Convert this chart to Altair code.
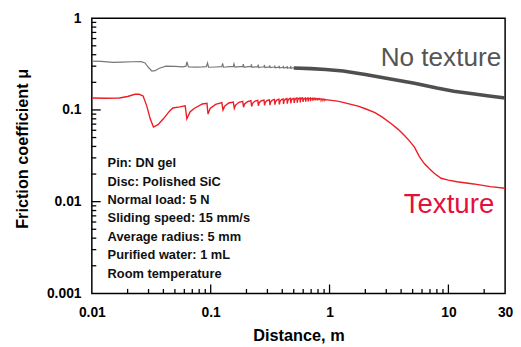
import altair as alt
import pandas as pd

# ---------------- data ----------------
red_x = [0.010, 0.013, 0.017, 0.020, 0.023, 0.025, 0.027, 0.029, 0.031, 0.033, 0.036, 0.040, 0.045, 0.048, 0.055, 0.061,
         0.063, 0.067, 0.072, 0.085, 0.093,
         0.095, 0.099, 0.110, 0.124,
         0.127, 0.131, 0.142, 0.155,
         0.158, 0.162, 0.173, 0.186,
         0.189, 0.193, 0.204, 0.218,
         0.221, 0.225, 0.236, 0.249,
         0.252, 0.256, 0.267, 0.281,
         0.284, 0.288, 0.299, 0.312,
         0.315, 0.319, 0.330, 0.344,
         0.347, 0.351, 0.362, 0.375,
         0.378, 0.383, 0.394, 0.407,
         0.410, 0.414, 0.425, 0.438,
         0.441, 0.446, 0.457, 0.470,
         0.472, 0.477, 0.490, 0.501,
         0.504, 0.509, 0.521, 0.532,
         0.535, 0.540, 0.552, 0.564,
         0.567, 0.572, 0.584, 0.595,
         0.598, 0.603, 0.627,
         0.630, 0.635, 0.658,
         0.661, 0.666, 0.690,
         0.692, 0.698, 0.721,
         0.724, 0.729, 0.752,
         0.755, 0.761, 0.784,
         0.787, 0.792, 0.815,
         0.818, 0.824, 0.846,
         0.849, 0.855, 0.877,
         0.880, 0.886, 0.909,
         0.912, 0.917, 0.940,
         1.0, 1.2, 1.4, 1.74, 2.0, 2.41, 2.8, 3.33, 3.8, 4.27, 4.7, 5.18, 5.7, 6.27, 7.0, 7.59, 8.67,
         10.0, 11.8, 16.3, 22.5, 30.0]
red_y = [0.135, 0.134, 0.135, 0.140, 0.148, 0.148, 0.142, 0.110, 0.080, 0.065, 0.069, 0.080, 0.097, 0.105, 0.108, 0.111,
         0.080, 0.095, 0.103, 0.116, 0.118,
         0.090, 0.104, 0.115, 0.120,
         0.100, 0.110, 0.119, 0.122,
         0.104, 0.113, 0.121, 0.124,
         0.107, 0.116, 0.123, 0.126,
         0.109, 0.118, 0.125, 0.127,
         0.111, 0.120, 0.126, 0.128,
         0.112, 0.121, 0.127, 0.129,
         0.113, 0.122, 0.128, 0.130,
         0.114, 0.123, 0.129, 0.131,
         0.115, 0.124, 0.130, 0.132,
         0.116, 0.125, 0.131, 0.133,
         0.117, 0.126, 0.132, 0.134,
         0.118, 0.127, 0.133, 0.134,
         0.119, 0.128, 0.134, 0.135,
         0.120, 0.129, 0.134, 0.135,
         0.121, 0.130, 0.135, 0.135,
         0.122, 0.130, 0.135,
         0.123, 0.131, 0.135,
         0.124, 0.131, 0.135,
         0.125, 0.132, 0.134,
         0.126, 0.132, 0.134,
         0.127, 0.132, 0.133,
         0.127, 0.132, 0.133,
         0.128, 0.132, 0.132,
         0.128, 0.131, 0.131,
         0.128, 0.131, 0.130,
         0.128, 0.130, 0.129,
         0.128, 0.124, 0.118, 0.110, 0.103, 0.0935, 0.083, 0.0702, 0.061, 0.0525, 0.046, 0.0393, 0.031, 0.026, 0.0225, 0.0204, 0.018,
         0.0172, 0.0165, 0.0156, 0.0146, 0.0140]

gray_thin_x = [0.010, 0.012, 0.015, 0.018, 0.022, 0.026, 0.028, 0.030, 0.032, 0.034, 0.037, 0.042, 0.050, 0.058, 0.062,
               0.063, 0.065, 0.075, 0.085, 0.092,
               0.094, 0.096, 0.110, 0.124,
               0.126, 0.128, 0.145, 0.155,
               0.157, 0.160, 0.175, 0.186,
               0.188, 0.191, 0.205, 0.218,
               0.220, 0.223, 0.237, 0.249,
               0.251, 0.254, 0.268, 0.281,
               0.283, 0.286, 0.300, 0.312,
               0.314, 0.317, 0.331, 0.344,
               0.346, 0.349, 0.364, 0.375,
               0.377, 0.380, 0.395, 0.406,
               0.408, 0.411, 0.426, 0.438,
               0.440, 0.443, 0.458, 0.469,
               0.471, 0.474, 0.490, 0.500]
gray_thin_y = [0.340, 0.338, 0.330, 0.332, 0.335, 0.336, 0.325, 0.290, 0.265, 0.268, 0.285, 0.300, 0.298, 0.295, 0.300,
               0.335, 0.295, 0.293, 0.295, 0.297,
               0.325, 0.292, 0.294, 0.296,
               0.322, 0.292, 0.296, 0.297,
               0.318, 0.293, 0.296, 0.297,
               0.316, 0.292, 0.296, 0.296,
               0.313, 0.291, 0.295, 0.295,
               0.311, 0.290, 0.294, 0.294,
               0.309, 0.289, 0.293, 0.293,
               0.307, 0.289, 0.292, 0.292,
               0.305, 0.288, 0.291, 0.291,
               0.303, 0.287, 0.290, 0.290,
               0.302, 0.286, 0.289, 0.289,
               0.301, 0.285, 0.288, 0.288,
               0.300, 0.284, 0.287, 0.287]

gray_thick_x = [0.50, 0.70, 0.93, 1.3, 2.0, 3.0, 5.18, 8.0, 11.1, 16.0, 22.0, 30.0]
gray_thick_y = [0.287, 0.282, 0.276, 0.266, 0.244, 0.222, 0.195, 0.173, 0.160, 0.150, 0.142, 0.135]

x_label_values = [0.01, 0.1, 1, 10, 30]
y_label_values = [0.001, 0.01, 0.1, 1]
x_major_ticks = [0.1, 1, 10]
x_minor_ticks = [0.02, 0.03, 0.04, 0.05, 0.06, 0.07, 0.08, 0.09,
                 0.2, 0.3, 0.4, 0.5, 0.6, 0.7, 0.8, 0.9,
                 2, 3, 4, 5, 6, 7, 8, 9, 20]
y_major_ticks = [0.01, 0.1]
y_minor_ticks = [0.002, 0.003, 0.004, 0.005, 0.006, 0.007, 0.008, 0.009,
                 0.02, 0.03, 0.04, 0.05, 0.06, 0.07, 0.08, 0.09,
                 0.2, 0.3, 0.4, 0.5, 0.6, 0.7, 0.8, 0.9]

annotation_lines = ["Pin: DN gel", "Disc: Polished SiC", "Normal load: 5 N", "Sliding speed: 15 mm/s",
                    "Average radius: 5 mm", "Purified water: 1 mL", "Room temperature"]
series_labels = ["No texture", "Texture"]

# ---------------- chart ----------------
W, H = 419, 279
FONT = "Liberation Sans"

xs = alt.Scale(type="log", domain=[0.01, 30], nice=False)
ys = alt.Scale(type="log", domain=[0.001, 1], nice=False)

x_axis = alt.Axis(values=x_label_values, labelExpr="datum.value + ''", grid=False, ticks=False, tickSize=0,
                  domain=False, labelFont=FONT, labelFontSize=14, labelFontWeight="bold", labelColor="black",
                  labelPadding=12, labelFlush=False, title="Distance, m", titleFont=FONT,
                  titleFontSize=16.5, titleFontWeight="bold", titleColor="black", titlePadding=9)
y_axis = alt.Axis(values=y_label_values, labelExpr="datum.value + ''", grid=False, ticks=False, tickSize=0,
                  domain=False, labelFont=FONT, labelFontSize=14, labelFontWeight="bold", labelColor="black",
                  labelPadding=11, labelFlush=False, title="Friction coefficient μ", titleFont=FONT,
                  titleFontSize=16.5, titleFontWeight="bold", titleColor="black", titlePadding=16,
                  titleY=132)

df_red = pd.DataFrame({"x": red_x, "y": red_y})
df_gthin = pd.DataFrame({"x": gray_thin_x, "y": gray_thin_y})
df_gthick = pd.DataFrame({"x": gray_thick_x, "y": gray_thick_y})

gray_thin = alt.Chart(df_gthin).mark_line(color="#777777", strokeWidth=1.2, clip=True).encode(
    x=alt.X("x:Q", scale=xs, axis=x_axis),
    y=alt.Y("y:Q", scale=ys, axis=y_axis),
    order="x:Q",
)
gray_thick = alt.Chart(df_gthick).mark_line(color="#4f4f4f", strokeWidth=3.6, clip=True).encode(
    x=alt.X("x:Q", scale=xs),
    y=alt.Y("y:Q", scale=ys),
    order="x:Q",
)
red = alt.Chart(df_red).mark_line(color="#ee1c25", strokeWidth=1.4, clip=True).encode(
    x=alt.X("x:Q", scale=xs),
    y=alt.Y("y:Q", scale=ys),
    order="x:Q",
)

def xticks(vals, length):
    return alt.Chart(pd.DataFrame({"x": vals})).mark_rule(color="black", strokeWidth=1.3).encode(
        x=alt.X("x:Q", scale=xs), y=alt.value(H), y2=alt.value(H - length))

def yticks(vals, length):
    return alt.Chart(pd.DataFrame({"y": vals})).mark_rule(color="black", strokeWidth=1.3).encode(
        y=alt.Y("y:Q", scale=ys), x=alt.value(0), x2=alt.value(length))

notes = alt.Chart(pd.DataFrame({"k": [0]})).mark_text(
    text=annotation_lines, align="left", baseline="middle", lineHeight=18.7,
    font=FONT, fontSize=13, fontWeight="bold", color="#111111",
).encode(x=alt.value(16), y=alt.value(147))

lbl_no = alt.Chart(pd.DataFrame({"k": [0]})).mark_text(
    text=series_labels[0], align="right", baseline="middle", font=FONT, fontSize=26.5, color="#555555",
).encode(x=alt.value(415), y=alt.value(40))

lbl_tex = alt.Chart(pd.DataFrame({"k": [0]})).mark_text(
    text=series_labels[1], align="right", baseline="middle", font=FONT, fontSize=28, color="#e3103c",
).encode(x=alt.value(408), y=alt.value(189))

chart = alt.layer(
    gray_thin, gray_thick, red,
    xticks(x_major_ticks, 9), xticks(x_minor_ticks, 4.5),
    yticks(y_major_ticks, 9), yticks(y_minor_ticks, 4.5),
    notes, lbl_no, lbl_tex,
).properties(
    width=W, height=H, autosize="none", background="white",
    padding={"left": 85, "top": 8, "right": 8, "bottom": 51},
).configure_view(stroke="black", strokeWidth=1.5)

chart.save("out.html", embed_options={"renderer": "svg", "actions": False})
